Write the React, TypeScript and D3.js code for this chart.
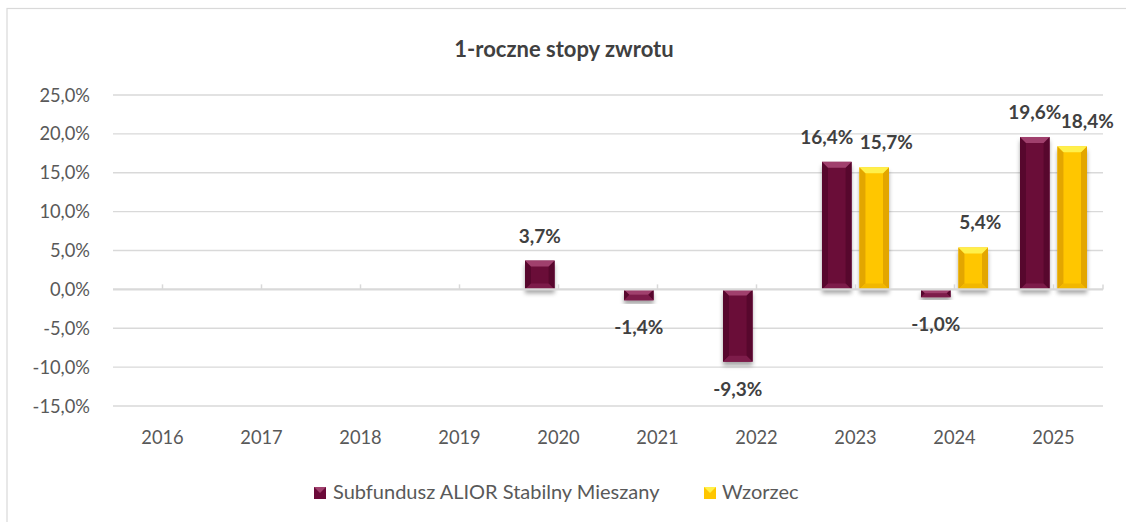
import React from 'react';
import * as d3 from 'd3';

const years = ['2016', '2017', '2018', '2019', '2020', '2021', '2022', '2023', '2024', '2025'];
const fundValues: (number | null)[] = [null, null, null, null, 3.7, -1.4, -9.3, 16.4, -1.0, 19.6];
const benchValues: (number | null)[] = [null, null, null, null, null, null, null, 15.7, 5.4, 18.4];
const yTicks = [-15, -10, -5, 0, 5, 10, 15, 20, 25];
const fundLabelDx = [0, 0, 0, 0, 0, 0, 0, -10, 0, 0];
const benchLabelDx = [0, 0, 0, 0, 0, 0, 0, 12, 7, 15];
const seriesNames = ['Subfundusz ALIOR Stabilny Mieszany', 'Wzorzec'];
const title = '1-roczne stopy zwrotu';

const W = 1126;
const H = 522;
const FONT = 'Lato, "Open Sans", sans-serif';

const palettes = {
  fund: { base: '#6b0a39', top: '#a0406d', side: '#57072d', bottom: '#7d1c4a' },
  bench: { base: '#ffc600', top: '#fff04a', side: '#e3a600', bottom: '#f2b700' },
};

const fmt = (v: number) => v.toFixed(1).replace('.', ',') + '%';

function BevelBar({ x, y, w, h, pal }: { x: number; y: number; w: number; h: number; pal: any }) {
  const b = Math.min(6, h / 2, w / 2);
  const p = (pts: number[][]) => pts.map((q) => q.join(',')).join(' ');
  return (
    <g>
      <rect x={x} y={y} width={w} height={h} fill={pal.base} filter="url(#shadow)" />
      <polygon points={p([[x, y], [x + b, y + b], [x + b, y + h - b], [x, y + h]])} fill={pal.side} />
      <polygon points={p([[x + w, y], [x + w - b, y + b], [x + w - b, y + h - b], [x + w, y + h]])} fill={pal.side} />
      <polygon points={p([[x, y + h], [x + w, y + h], [x + w - b, y + h - b], [x + b, y + h - b]])} fill={pal.bottom} />
      <polygon points={p([[x, y], [x + w, y], [x + w - b, y + b], [x + b, y + b]])} fill={pal.top} />
    </g>
  );
}

export default function App() {
  const x = d3.scaleBand<string>().domain(years).range([113, 1103]).padding(0);
  const bw = x.bandwidth();
  const x1 = d3
    .scaleBand<string>()
    .domain(['fund', 'bench'])
    .range([bw / 2 - 33.5, bw / 2 + 33.5])
    .paddingInner(0.21)
    .paddingOuter(0);
  const y = d3.scaleLinear().domain([-15, 25]).range([406, 95]);
  const y0 = y(0);

  const bars: any[] = [];
  const labels: any[] = [];
  const addSeries = (key: 'fund' | 'bench', vals: (number | null)[], dxs: number[]) => {
    vals.forEach((v, i) => {
      if (v === null) return;
      const bx = (x(years[i]) as number) + (x1(key) as number);
      const w = x1.bandwidth();
      const top = y(Math.max(0, v));
      const bot = y(Math.min(0, v));
      bars.push(<BevelBar key={key + i} x={bx} y={top} w={w} h={bot - top} pal={palettes[key]} />);
      const cx = bx + w / 2 + dxs[i];
      labels.push(
        <text
          key={'l' + key + i}
          x={cx}
          y={v >= 0 ? top - 18 : bot + 34}
          textAnchor="middle"
          fontFamily={FONT}
          fontWeight="bold"
          fontSize={19}
          fill="#404040"
        >
          {fmt(v)}
        </text>
      );
    });
  };
  addSeries('fund', fundValues, fundLabelDx);
  addSeries('bench', benchValues, benchLabelDx);

  return (
    <svg width={W} height={H} style={{ position: 'absolute', left: 0, top: 0, background: '#fff' }}>
      <defs>
        <filter id="shadow" x="-30%" y="-30%" width="160%" height="160%">
          <feDropShadow dx="0" dy="4" stdDeviation="2.2" floodColor="#000" floodOpacity="0.35" />
        </filter>
      </defs>
      <rect x={7} y={8.5} width={W + 10} height={H + 10} fill="#fff" stroke="#d9d9d9" strokeWidth={1.2} />
      <text x={564} y={57} textAnchor="middle" fontFamily={FONT} fontWeight="bold" fontSize={22} fill="#404040">
        {title}
      </text>
      {yTicks.map((t) => (
        <g key={t}>
          {t !== 0 && <line x1={113} x2={1103} y1={y(t)} y2={y(t)} stroke="#d9d9d9" strokeWidth={1.3} />}
          <text x={90} y={y(t) + 6.5} textAnchor="end" fontFamily={FONT} fontSize={18.3} fill="#595959">
            {fmt(t)}
          </text>
        </g>
      ))}
      {bars}
      <line x1={113} x2={1103} y1={y0} y2={y0} stroke="#d9d9d9" strokeWidth={2.2} />
      {years.map((yr) => {
        const cx = (x(yr) as number) + bw / 2;
        return <line key={'t' + yr} x1={cx} x2={cx} y1={y0} y2={y0 - 5} stroke="#d9d9d9" strokeWidth={1.5} />;
      })}
      <line x1={1103} x2={1103} y1={y0} y2={y0 - 5} stroke="#d9d9d9" strokeWidth={1.5} />
      {labels}
      {years.map((yr) => (
        <text
          key={'x' + yr}
          x={(x(yr) as number) + bw / 2}
          y={444}
          textAnchor="middle"
          fontFamily={FONT}
          fontSize={18.3}
          fill="#595959"
        >
          {yr}
        </text>
      ))}
      <g>
        <rect x={314} y={487} width={12} height={12} fill={palettes.fund.base} />
        <polygon points="314,487 326,487 320,493" fill={palettes.fund.top} />
        <text x={333} y={499} fontFamily={FONT} fontSize={20} fill="#595959">
          {seriesNames[0]}
        </text>
        <rect x={704} y={487} width={12} height={12} fill={palettes.bench.base} />
        <polygon points="704,487 716,487 710,493" fill={palettes.bench.top} />
        <text x={722} y={499} fontFamily={FONT} fontSize={20} fill="#595959">
          {seriesNames[1]}
        </text>
      </g>
    </svg>
  );
}
